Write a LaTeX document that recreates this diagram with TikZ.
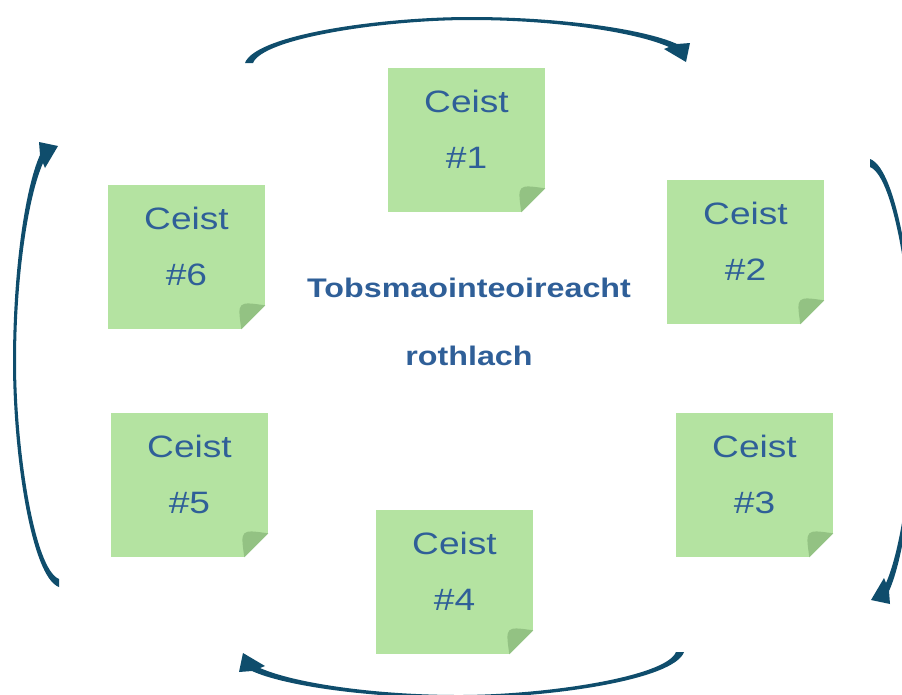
\documentclass[tikz,border=0pt]{standalone}
\usepackage{fontspec}
\setmainfont{Liberation Sans}[FakeStretch=1.2]

\begin{document}
\begin{tikzpicture}[x=0.02cm, y=-0.02cm]
    \definecolor{noteColour}{HTML}{B4E3A1}
    \definecolor{foldColour}{HTML}{93C283}
    \definecolor{textColour}{HTML}{2F5F98}
    \definecolor{arrowColour}{HTML}{0F4D6C}

    \def\fold{0.48cm}

    \tikzset{
        note/.style={fill=noteColour, minimum width=3.14cm, minimum height=2.88cm,
            inner sep=0pt, align=center, text=textColour, text depth=0.44cm,
            font=\fontsize{17.6pt}{31.7pt}\selectfont},
        title/.style={inner sep=0pt, align=center, text=textColour,
            font=\fontsize{15.3pt}{38.6pt}\selectfont\bfseries}
    }

    % Page frame
    \useasboundingbox (0,0) rectangle (902,694);
    \clip (0,0) rectangle (902,694);

    % Sticky notes
    \foreach \i/\cx/\cy in {1/466.5/140, 2/745.5/252, 3/754.5/485,
                            4/454.5/582, 5/189.5/485, 6/186.5/257}
        \node[note] (q\i) at (\cx,\cy) {Ceist\\\#\i};

    % Folded corners
    \foreach \i in {1,...,6} {
        \fill[white] ([xshift=-\fold]q\i.south east) -- (q\i.south east)
            -- ([yshift=\fold]q\i.south east) -- cycle;
        \fill[foldColour] ([xshift=-\fold]q\i.south east)
            -- ([yshift=\fold]q\i.south east)
            .. controls ([xshift=-0.56cm,yshift=0.56cm]q\i.south east)
            .. ([xshift=-\fold]q\i.south east);
    }

    % Centre title
    \node[title] (topic) at (469,322) {Tobsmaointeoireacht\\rothlach};

    % Curved arrows round the notes
    \foreach \ang/\tx/\ty in {0/249/63, -90/870/163, 180/680/652, 90/59/583}
        \fill[arrowColour, shift={(\tx,\ty)}, rotate=\ang]
            (-4,0) .. controls (6,-28) and (131,-46) .. (221,-46)
            .. controls (311,-46) and (395,-34) .. (428,-19)
            -- (441,-20) -- (437,-1) -- (415,-14) -- (420,-16)
            .. controls (386,-31) and (306,-43) .. (221,-43)
            .. controls (136,-43) and (14,-25) .. (4,0) -- cycle;

\end{tikzpicture}
\end{document}
